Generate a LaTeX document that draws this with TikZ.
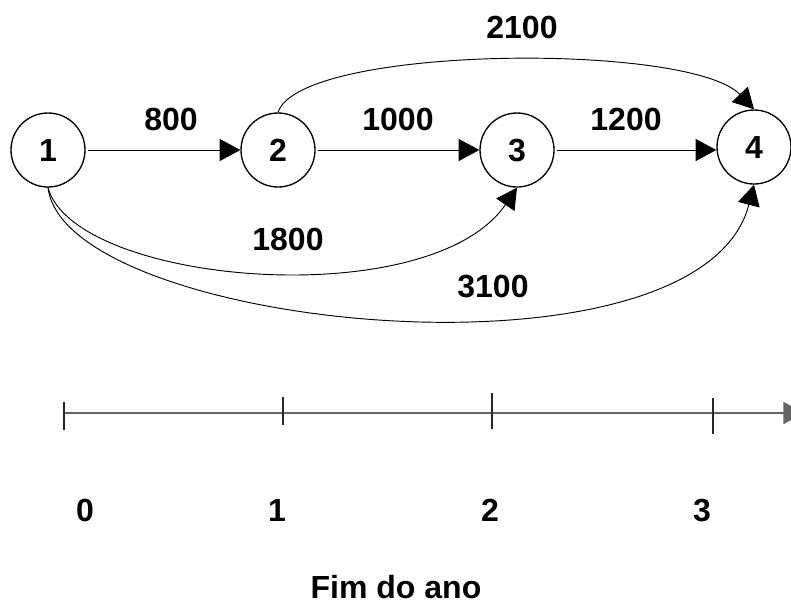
\documentclass[tikz,border=0pt]{standalone}
\usepackage{fontspec}
\setmainfont{Liberation Sans}
\usetikzlibrary{arrows.meta}
\begin{document}
\begin{tikzpicture}[x=0.75pt,y=-0.75pt,
  event/.style={circle,draw,line width=1pt,minimum size=55.5pt,inner sep=0pt,font=\fontsize{24}{24}\selectfont\bfseries},
  lbl/.style={font=\fontsize{24}{24}\selectfont\bfseries},
  flow/.style={line width=0.7pt,-{Triangle[length=15.5pt,width=16.5pt]}},
  axis/.style={line width=1.6pt,draw={rgb,255:red,100;green,100;blue,100}},
  tick/.style={line width=1.2pt,draw={rgb,255:red,40;green,40;blue,40}}]
\useasboundingbox (0,0) rectangle (791,612);

% events
\node[event] (n1) at (48,150) {1};
\node[event] (n2) at (278,150) {2};
\node[event] (n3) at (517,150) {3};
\node[event] (n4) at (754,147) {4};

% activities between consecutive events
\draw[flow,shorten <=2pt] (n1) -- (n2);
\draw[flow,shorten <=2pt] (n2) -- (n3);
\draw[flow,shorten <=2pt] (n3.east) -- (n3.east -| n4.west);

% activities skipping events
\draw[flow] (n2.north) .. controls (300,45) and (690,42) .. (n4.north);
\draw[flow] (n1.south) .. controls (75,285) and (430,315) .. (n3.south);
\draw[flow] (n1.south) .. controls (65,330) and (700,394) .. (n4.south);

% costs
\node[lbl] (c12) at (171,119) {800};
\node[lbl] (c23) at (398,119) {1000};
\node[lbl] (c34) at (626,119) {1200};
\node[lbl] (c24) at (522,27) {2100};
\node[lbl] (c13) at (288,239) {1800};
\node[lbl] (c14) at (493,286) {3100};

% time axis
\coordinate (a0) at (64,413);
\coordinate (aend) at (804,413);
\draw[axis,-{Triangle[length=15.5pt,width=16.5pt]}] (a0) -- (aend);
\draw[tick] (64,402) -- (64,430);
\draw[tick] (283,397) -- (283,425);
\draw[tick] (492,393) -- (492,429);
\draw[tick] (713,398) -- (713,434);

\node[lbl] (t0) at (85,510) {0};
\node[lbl] (t1) at (277,510) {1};
\node[lbl] (t2) at (490,510) {2};
\node[lbl] (t3) at (702,510) {3};
\node[lbl] (title) at (396,587) {Fim do ano};
\end{tikzpicture}
\end{document}
